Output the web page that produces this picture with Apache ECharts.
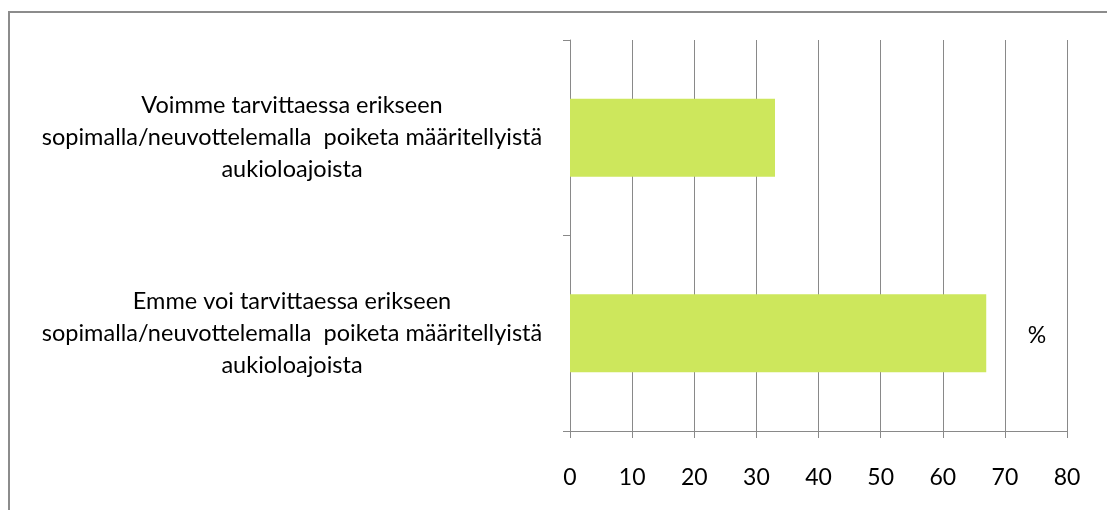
<!DOCTYPE html>
<html><head><meta charset="utf-8">
<script src="https://cdn.jsdelivr.net/npm/echarts@6/dist/echarts.min.js"></script>
<style>html,body{margin:0;padding:0;background:#fff}#c{width:1107px;height:510px}</style>
</head><body><div id="c"></div>
<script>
const categories = [
  "Emme voi tarvittaessa erikseen\nsopimalla/neuvottelemalla  poiketa määritellyistä\naukioloajoista",
  "Voimme tarvittaessa erikseen\nsopimalla/neuvottelemalla  poiketa määritellyistä\naukioloajoista"
];
const values = [67, 33];
const seriesName = "%";
const xTicks = { min: 0, max: 80, interval: 10 };

const FONT = "Lato, 'Open Sans', sans-serif";
const grey = '#898989';
const chart = echarts.init(document.getElementById('c'));
chart.setOption({
  animation: false,
  backgroundColor: '#fff',
  grid: { left: 570, right: 40, top: 40, bottom: 79 },
  xAxis: {
    type: 'value', min: xTicks.min, max: xTicks.max, interval: xTicks.interval,
    axisLine: { show: true, lineStyle: { color: grey, width: 1 } },
    axisTick: { show: true, length: 7, lineStyle: { color: grey } },
    splitLine: { show: true, lineStyle: { color: grey, width: 1 } },
    axisLabel: { color: '#000', fontSize: 23, fontFamily: FONT, margin: 35 }
  },
  yAxis: {
    type: 'category', data: categories,
    axisLine: { show: true, lineStyle: { color: grey, width: 1 } },
    axisTick: { show: true, length: 7, lineStyle: { color: grey } },
    axisLabel: { color: '#000', fontSize: 23.5, fontFamily: FONT, lineHeight: 32, align: 'center', margin: 278 }
  },
  graphic: [
    { type: 'rect', shape: { x: 9, y: 12, width: 1200, height: 600 }, style: { fill: 'none', stroke: '#8c8c8c', lineWidth: 2 }, silent: true },
    { type: 'text', x: 1037, y: 336, style: { text: seriesName, fontSize: 23, fontFamily: FONT, fill: '#000', align: 'center', verticalAlign: 'middle' } }
  ],
  series: [{
    name: seriesName, type: 'bar', data: values, barWidth: 78,
    itemStyle: { color: '#cde75c' }
  }]
});
</script></body></html>
